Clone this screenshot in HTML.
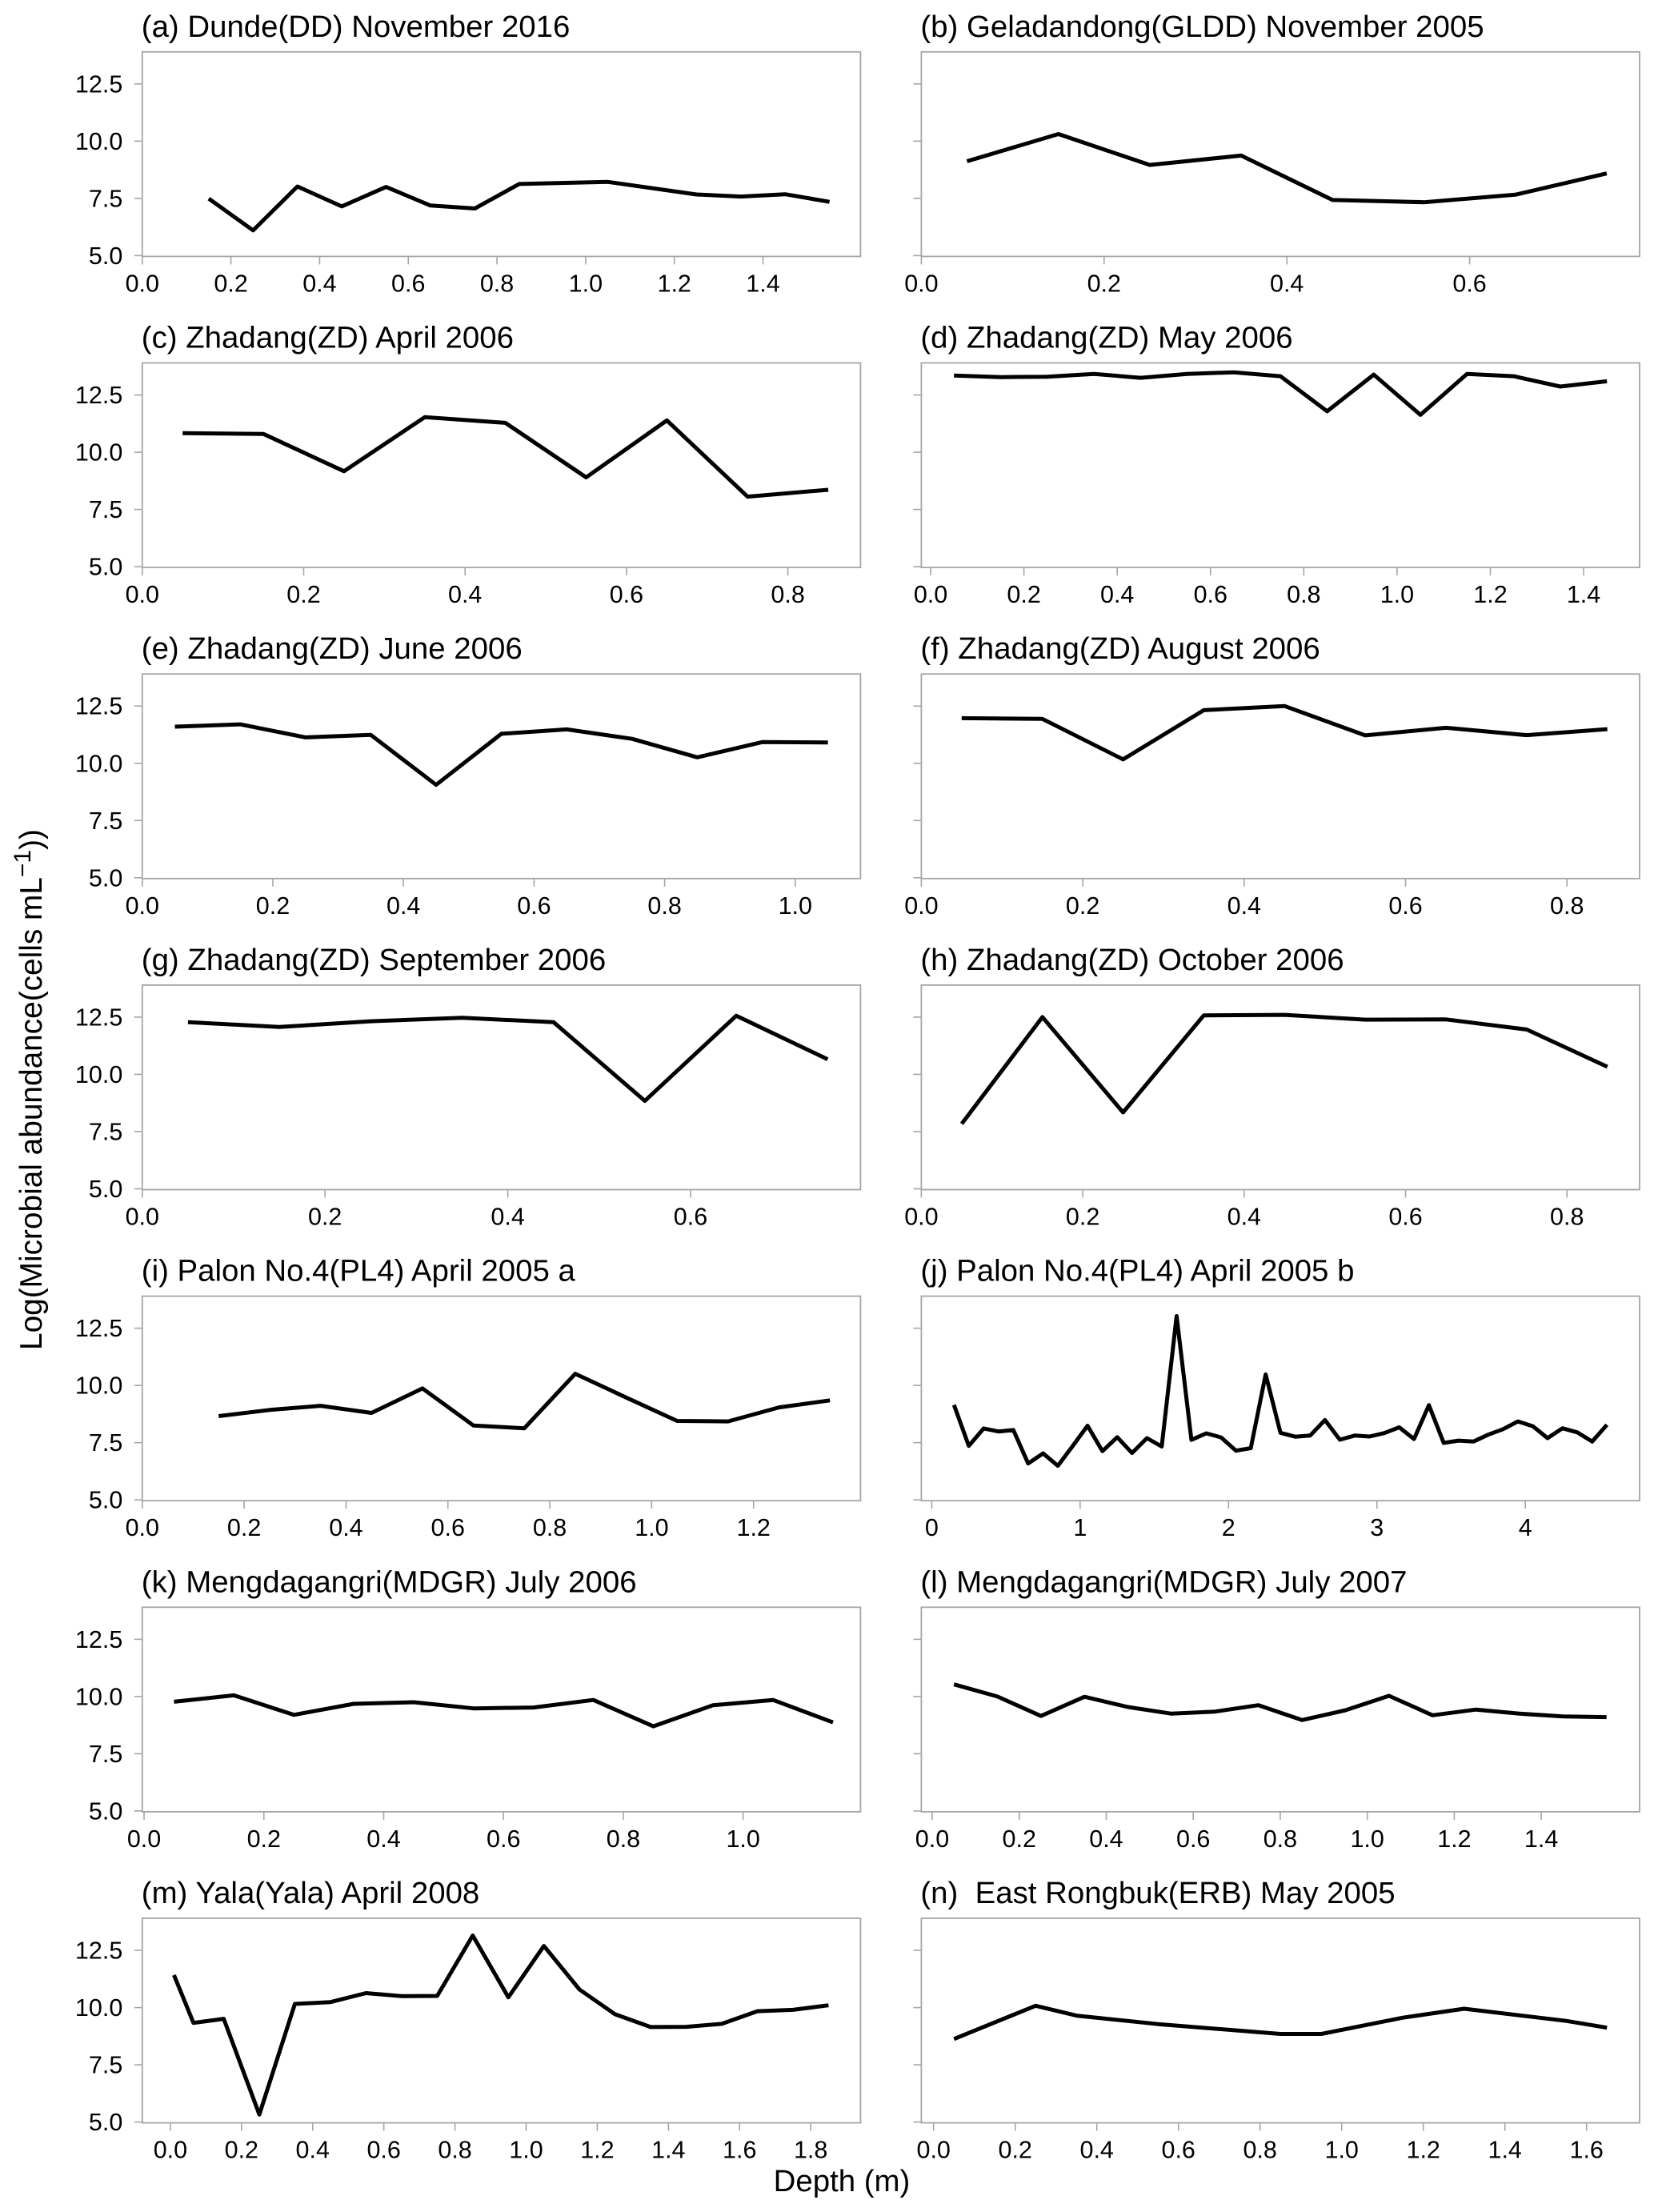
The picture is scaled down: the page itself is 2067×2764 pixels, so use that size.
<!DOCTYPE html>
<html lang="en">
<head>
<meta charset="utf-8">
<title>Microbial abundance by depth</title>
<style>
  html, body { margin: 0; padding: 0; background: #fff; }
  svg { display: block; }
  text { font-family: "Liberation Sans", Arial, sans-serif; fill: #000; }
  .panel-title { font-size: 38.4px; white-space: pre; }
  .tick-label { font-size: 30.5px; }
  .axis-title { font-size: 38.4px; }
</style>
</head>
<body>
<svg id="chart" xmlns="http://www.w3.org/2000/svg" width="2067" height="2764" viewBox="0 0 2067 2764">
  <rect x="0" y="0" width="2067" height="2764" fill="#fff"></rect>
  <text class="axis-title" text-anchor="middle" style="font-size:38.8px" transform="translate(52 1361.5) rotate(-90)">Log(Microbial abundance(cells mL<tspan font-size="30" dy="-14">−1</tspan><tspan dy="14">))</tspan></text>
  <text class="axis-title" text-anchor="middle" x="1052" y="2738">Depth (m)</text>
</svg>
<script>
// Series values: depth (m) and log abundance per panel.
const depthA = [0.15,0.25,0.35,0.45,0.55,0.65,0.75,0.85,1.05,1.25,1.35,1.45,1.55];
const abundanceA = [7.49,6.10,8.02,7.15,8.00,7.19,7.06,8.13,8.22,7.67,7.58,7.68,7.35];
const depthB = [0.05,0.15,0.25,0.35,0.45,0.55,0.65,0.75];
const abundanceB = [9.12,10.31,8.96,9.37,7.43,7.33,7.66,8.59];
const depthC = [0.05,0.15,0.25,0.35,0.45,0.55,0.65,0.75,0.85];
const abundanceC = [10.83,10.80,9.17,11.53,11.28,8.90,11.39,8.06,8.36];
const depthD = [0.05,0.15,0.25,0.35,0.45,0.55,0.65,0.75,0.85,0.95,1.05,1.15,1.25,1.35,1.45];
const abundanceD = [13.35,13.28,13.30,13.42,13.25,13.42,13.49,13.32,11.79,13.39,11.63,13.42,13.32,12.87,13.10];
const depthE = [0.05,0.15,0.25,0.35,0.45,0.55,0.65,0.75,0.85,0.95,1.05];
const abundanceE = [11.60,11.70,11.13,11.24,9.06,11.29,11.48,11.07,10.26,10.93,10.91];
const depthF = [0.05,0.15,0.25,0.35,0.45,0.55,0.65,0.75,0.85];
const abundanceF = [11.97,11.94,10.17,12.32,12.50,11.22,11.55,11.23,11.49];
const depthG = [0.05,0.15,0.25,0.35,0.45,0.55,0.65,0.75];
const abundanceG = [12.28,12.07,12.32,12.47,12.28,8.84,12.56,10.66];
const depthH = [0.05,0.15,0.25,0.35,0.45,0.55,0.65,0.75,0.85];
const abundanceH = [7.84,12.50,8.34,12.58,12.60,12.39,12.40,11.96,10.33];
const depthI = [0.15,0.25,0.35,0.45,0.55,0.65,0.75,0.85,0.95,1.05,1.15,1.25,1.35];
const abundanceI = [8.66,8.93,9.11,8.80,9.87,8.25,8.13,10.51,9.47,8.45,8.43,9.04,9.35];
const depthJ = [0.15,0.25,0.35,0.45,0.55,0.65,0.75,0.85,0.95,1.05,1.15,1.25,1.35,1.45,1.55,1.65,1.75,1.85,1.95,2.05,2.15,2.25,2.35,2.45,2.55,2.65,2.75,2.85,2.95,3.05,3.15,3.25,3.35,3.45,3.55,3.65,3.75,3.85,3.95,4.05,4.15,4.25,4.35,4.45,4.55];
const abundanceJ = [9.15,7.36,8.12,7.99,8.05,6.59,7.03,6.49,7.36,8.24,7.13,7.74,7.05,7.70,7.33,13.03,7.62,7.91,7.73,7.15,7.26,10.48,7.93,7.76,7.81,8.49,7.63,7.81,7.77,7.92,8.17,7.66,9.14,7.49,7.59,7.55,7.85,8.09,8.43,8.22,7.70,8.13,7.95,7.55,8.28];
const depthK = [0.05,0.15,0.25,0.35,0.45,0.55,0.65,0.75,0.85,0.95,1.05,1.15];
const abundanceK = [9.77,10.05,9.20,9.68,9.75,9.48,9.52,9.85,8.70,9.62,9.85,8.87];
const depthL = [0.05,0.15,0.25,0.35,0.45,0.55,0.65,0.75,0.85,0.95,1.05,1.15,1.25,1.35,1.45,1.55];
const abundanceL = [10.53,10.00,9.15,9.99,9.54,9.25,9.34,9.62,8.97,9.40,10.03,9.18,9.43,9.25,9.13,9.10];
const depthM = [0.01,0.065,0.15,0.25,0.35,0.45,0.55,0.65,0.75,0.85,0.95,1.05,1.15,1.25,1.35,1.45,1.55,1.65,1.75,1.85];
const abundanceM = [11.42,9.33,9.51,5.33,10.16,10.24,10.63,10.50,10.51,13.15,10.45,12.69,10.79,9.71,9.15,9.16,9.29,9.84,9.90,10.10];
const depthN = [0.05,0.25,0.35,0.55,0.85,0.95,1.15,1.30,1.55,1.65];
const abundanceN = [8.63,10.08,9.65,9.28,8.85,8.85,9.56,9.95,9.42,9.12];

// Tick labels.
const yTickLabels = ["5.0","7.5","10.0","12.5"];
const xTicks02to14 = ["0.0","0.2","0.4","0.6","0.8","1.0","1.2","1.4"];
const xTicks02to06 = ["0.0","0.2","0.4","0.6"];
const xTicks02to08 = ["0.0","0.2","0.4","0.6","0.8"];
const xTicks02to10 = ["0.0","0.2","0.4","0.6","0.8","1.0"];
const xTicks02to12 = ["0.0","0.2","0.4","0.6","0.8","1.0","1.2"];
const xTicks02to16 = ["0.0","0.2","0.4","0.6","0.8","1.0","1.2","1.4","1.6"];
const xTicks02to18 = ["0.0","0.2","0.4","0.6","0.8","1.0","1.2","1.4","1.6","1.8"];
const xTicksWhole = ["0","1","2","3","4"];

// Panel titles and axis ranges (data units).
const panelTitles = [
  "(a) Dunde(DD) November 2016","(b) Geladandong(GLDD) November 2005",
  "(c) Zhadang(ZD) April 2006","(d) Zhadang(ZD) May 2006",
  "(e) Zhadang(ZD) June 2006","(f) Zhadang(ZD) August 2006",
  "(g) Zhadang(ZD) September 2006","(h) Zhadang(ZD) October 2006",
  "(i) Palon No.4(PL4) April 2005 a","(j) Palon No.4(PL4) April 2005 b",
  "(k) Mengdagangri(MDGR) July 2006","(l) Mengdagangri(MDGR) July 2007",
  "(m) Yala(Yala) April 2008","(n)  East Rongbuk(ERB) May 2005"
];
const depthSeries = [depthA,depthB,depthC,depthD,depthE,depthF,depthG,depthH,depthI,depthJ,depthK,depthL,depthM,depthN];
const abundanceSeries = [abundanceA,abundanceB,abundanceC,abundanceD,abundanceE,abundanceF,abundanceG,abundanceH,abundanceI,abundanceJ,abundanceK,abundanceL,abundanceM,abundanceN];
const xTickSets = [xTicks02to14,xTicks02to06,xTicks02to08,xTicks02to14,xTicks02to10,xTicks02to08,xTicks02to06,xTicks02to08,xTicks02to12,xTicksWhole,xTicks02to10,xTicks02to14,xTicks02to18,xTicks02to16];
const xRangeMin = [0,0,0,-0.02,0,0,0,0,0,-0.07,-0.003,-0.025,-0.079,-0.03];
const xRangeMax = [1.62,0.786,0.89,1.52,1.1,0.89,0.786,0.89,1.41,4.77,1.196,1.626,1.94,1.73];
const yRangeMin = 4.965;
const yRangeMax = 13.9;

const SVG_NS = "http://www.w3.org/2000/svg";
const chart = document.getElementById("chart");
const AXIS_COLOR = "#a6a6a6";
const COL_LEFT = [177.8, 1151.4];
const PANEL_W = 897.6;
const PANEL_H = 255.6;
const ROW_TOP = 64.8;
const ROW_PITCH = 388.7;

function make(tag, parent) {
  const el = document.createElementNS(SVG_NS, tag);
  parent.appendChild(el);
  return el;
}

function drawLine(parent, x1, y1, x2, y2, name) {
  const ln = make("line", parent);
  ln.setAttribute("x1", x1);
  ln.setAttribute("y1", y1);
  ln.setAttribute("x2", x2);
  ln.setAttribute("y2", y2);
  ln.setAttribute("stroke", AXIS_COLOR);
  ln.setAttribute("stroke-width", "1.6");
  
  
  return ln;
}

function drawLabel(parent, x, y, anchor, content, name) {
  const t = make("text", parent);
  t.setAttribute("class", "tick-label");
  t.setAttribute("x", x);
  t.setAttribute("y", y);
  t.setAttribute("text-anchor", anchor);
  t.textContent = content;
  
  
  return t;
}

panelTitles.forEach(function (title, i) {
  const col = i % 2;
  const row = Math.floor(i / 2);
  const left = COL_LEFT[col];
  const top = ROW_TOP + ROW_PITCH * row;
  const bottom = top + PANEL_H;
  const letter = String.fromCharCode(97 + i);

  // Axis functions: data values to pixels.
  const xScale = function (v) {
    return left + (v - xRangeMin[i]) / (xRangeMax[i] - xRangeMin[i]) * PANEL_W;
  };
  const yScale = function (v) {
    return bottom - (v - yRangeMin) / (yRangeMax - yRangeMin) * PANEL_H;
  };

  const group = make("g", chart);
  
  

  const heading = make("text", group);
  heading.setAttribute("class", "panel-title");
  heading.setAttribute("x", left - 1);
  heading.setAttribute("y", top - 19);
  heading.textContent = title;
  
  

  const frame = make("rect", group);
  frame.setAttribute("x", left);
  frame.setAttribute("y", top);
  frame.setAttribute("width", PANEL_W);
  frame.setAttribute("height", PANEL_H);
  frame.setAttribute("fill", "#fff");
  frame.setAttribute("stroke", AXIS_COLOR);
  frame.setAttribute("stroke-width", "1.8");
  
  

  yTickLabels.forEach(function (label) {
    const yPos = yScale(parseFloat(label));
    drawLine(group, left - 10, yPos, left, yPos, "y-tick-" + letter + "-" + label);
    if (col === 0) {
      drawLabel(group, left - 24.5, yPos + 10.5, "end", label, "y-tick-label-" + letter + "-" + label);
    }
  });

  xTickSets[i].forEach(function (label) {
    const xPos = xScale(parseFloat(label));
    drawLine(group, xPos, bottom, xPos, bottom + 10, "x-tick-" + letter + "-" + label);
    drawLabel(group, xPos, bottom + 44, "middle", label, "x-tick-label-" + letter + "-" + label);
  });

  const points = depthSeries[i].map(function (d, k) {
    return xScale(d).toFixed(1) + "," + yScale(abundanceSeries[i][k]).toFixed(1);
  }).join(" ");
  const series = make("polyline", group);
  series.setAttribute("points", points);
  series.setAttribute("fill", "none");
  series.setAttribute("stroke", "#000");
  series.setAttribute("stroke-width", "5");
  series.setAttribute("stroke-linejoin", "round");
  series.setAttribute("stroke-linecap", "butt");
  
  
});
</script>
</body>
</html>
